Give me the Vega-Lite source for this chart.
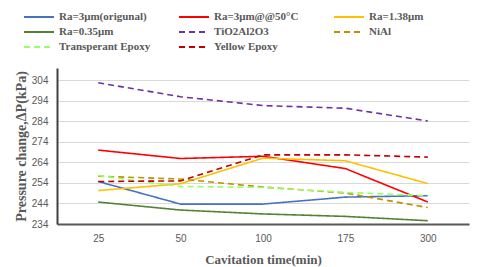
{
  "$schema": "https://vega.github.io/schema/vega-lite/v6.json",
  "autosize": "none",
  "width": 412,
  "height": 156,
  "padding": {"left": 57, "top": 68, "right": 11, "bottom": 43},
  "background": "white",
  "data": {"values": [
    {"s": "Ra=3μm(origunal)", "t": 25, "p": 254.7},
    {"s": "Ra=3μm(origunal)", "t": 50, "p": 243.7},
    {"s": "Ra=3μm(origunal)", "t": 100, "p": 243.7},
    {"s": "Ra=3μm(origunal)", "t": 175, "p": 247.1},
    {"s": "Ra=3μm(origunal)", "t": 300, "p": 247.8},
    {"s": "Ra=3μm@@50°C", "t": 25, "p": 270.0},
    {"s": "Ra=3μm@@50°C", "t": 50, "p": 265.9},
    {"s": "Ra=3μm@@50°C", "t": 100, "p": 267.0},
    {"s": "Ra=3μm@@50°C", "t": 175, "p": 261.0},
    {"s": "Ra=3μm@@50°C", "t": 300, "p": 244.7},
    {"s": "Ra=1.38μm", "t": 25, "p": 250.3},
    {"s": "Ra=1.38μm", "t": 50, "p": 253.6},
    {"s": "Ra=1.38μm", "t": 100, "p": 266.1},
    {"s": "Ra=1.38μm", "t": 175, "p": 264.8},
    {"s": "Ra=1.38μm", "t": 300, "p": 253.7},
    {"s": "Ra=0.35μm", "t": 25, "p": 244.7},
    {"s": "Ra=0.35μm", "t": 50, "p": 240.8},
    {"s": "Ra=0.35μm", "t": 100, "p": 238.9},
    {"s": "Ra=0.35μm", "t": 175, "p": 237.7},
    {"s": "Ra=0.35μm", "t": 300, "p": 235.6},
    {"s": "TiO2Al2O3", "t": 25, "p": 302.8},
    {"s": "TiO2Al2O3", "t": 50, "p": 296.0},
    {"s": "TiO2Al2O3", "t": 100, "p": 291.7},
    {"s": "TiO2Al2O3", "t": 175, "p": 290.4},
    {"s": "TiO2Al2O3", "t": 300, "p": 284.2},
    {"s": "NiAl", "t": 25, "p": 257.3},
    {"s": "NiAl", "t": 50, "p": 255.9},
    {"s": "NiAl", "t": 100, "p": 252.0},
    {"s": "NiAl", "t": 175, "p": 249.1},
    {"s": "NiAl", "t": 300, "p": 242.0},
    {"s": "Transperant Epoxy", "t": 25, "p": 257.6},
    {"s": "Transperant Epoxy", "t": 50, "p": 252.3},
    {"s": "Transperant Epoxy", "t": 100, "p": 251.8},
    {"s": "Transperant Epoxy", "t": 175, "p": 249.4},
    {"s": "Transperant Epoxy", "t": 300, "p": 247.8},
    {"s": "Yellow Epoxy", "t": 25, "p": 254.7},
    {"s": "Yellow Epoxy", "t": 50, "p": 255.0},
    {"s": "Yellow Epoxy", "t": 100, "p": 267.7},
    {"s": "Yellow Epoxy", "t": 175, "p": 267.7},
    {"s": "Yellow Epoxy", "t": 300, "p": 266.6}
  ]},
  "mark": {"type": "line", "strokeWidth": 1.6},
  "encoding": {
    "x": {
      "field": "t", "type": "ordinal",
      "scale": {"type": "point", "padding": 0.5},
      "axis": {
        "title": "Cavitation time(min)",
        "titleFont": "Liberation Serif", "titleFontSize": 13, "titleFontWeight": "bold", "titleColor": "#595959",
        "titlePadding": 10,
        "labelAngle": 0, "labelFont": "Liberation Sans", "labelFontSize": 10, "labelColor": "#595959", "labelPadding": 9,
        "ticks": false, "grid": false,
        "domainColor": "#595959", "domainWidth": 2
      }
    },
    "y": {
      "field": "p", "type": "quantitative",
      "scale": {"domain": [234, 310], "nice": false, "zero": false},
      "axis": {
        "title": "Pressure change,ΔP(kPa)",
        "values": [234, 244, 254, 264, 274, 284, 294, 304],
        "titleFont": "Liberation Serif", "titleFontSize": 14, "titleFontWeight": "bold", "titleColor": "#595959",
        "titlePadding": 3,
        "labelFont": "Liberation Sans", "labelFontSize": 10, "labelColor": "#595959", "labelPadding": 9,
        "ticks": false, "grid": true, "gridColor": "#D9D9D9", "gridWidth": 1,
        "domainColor": "#404040", "domainWidth": 2
      }
    },
    "color": {
      "field": "s", "type": "nominal",
      "scale": {
        "domain": ["Ra=3μm(origunal)", "Ra=0.35μm", "Transperant Epoxy", "Ra=3μm@@50°C", "TiO2Al2O3", "Yellow Epoxy", "Ra=1.38μm", "NiAl"],
        "range": ["#4472C4", "#548235", "#99FF66", "#FF0000", "#7030A0", "#C00000", "#FFC000", "#BF9000"]
      },
      "legend": {
        "title": null, "orient": "none", "legendX": -34, "legendY": -58,
        "columns": 3, "gridAlign": "all", "columnPadding": 27, "rowPadding": 1, "clipHeight": 14,
        "symbolType": "stroke", "symbolSize": 900, "symbolStrokeWidth": 2,
        "labelFont": "Liberation Serif", "labelFontSize": 11, "labelFontWeight": "bold", "labelColor": "#595959",
        "labelOffset": 4, "labelLimit": 200
      }
    },
    "strokeDash": {
      "field": "s", "type": "nominal",
      "scale": {
        "domain": ["Ra=3μm(origunal)", "Ra=0.35μm", "Transperant Epoxy", "Ra=3μm@@50°C", "TiO2Al2O3", "Yellow Epoxy", "Ra=1.38μm", "NiAl"],
        "range": [[1, 0], [1, 0], [6, 4], [1, 0], [6, 4], [6, 4], [1, 0], [6, 4]]
      },
      "legend": {
        "title": null, "orient": "none", "legendX": -34, "legendY": -58,
        "columns": 3, "gridAlign": "all", "columnPadding": 27, "rowPadding": 1, "clipHeight": 14,
        "symbolType": "stroke", "symbolSize": 900, "symbolStrokeWidth": 2,
        "labelFont": "Liberation Serif", "labelFontSize": 11, "labelFontWeight": "bold", "labelColor": "#595959",
        "labelOffset": 4, "labelLimit": 200
      }
    }
  },
  "config": {"view": {"stroke": null}}
}
